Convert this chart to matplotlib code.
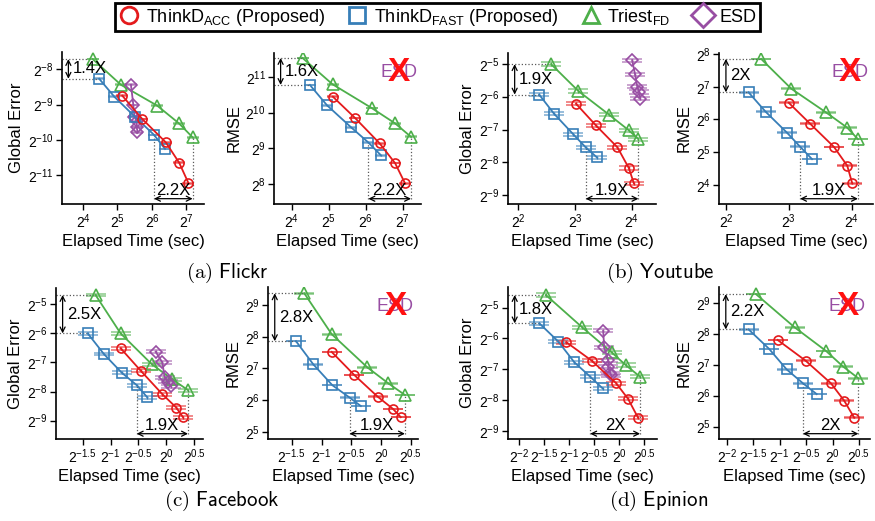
import matplotlib
matplotlib.use('Agg')
import matplotlib.pyplot as plt
from matplotlib.lines import Line2D

plt.rcParams['font.family'] = ['Liberation Sans', 'DejaVu Sans']
plt.rcParams['mathtext.fontset'] = 'custom'
plt.rcParams['mathtext.rm'] = 'Liberation Sans'
plt.rcParams['mathtext.it'] = 'Liberation Sans:italic'
plt.rcParams['mathtext.bf'] = 'Liberation Sans:bold'
plt.rcParams['mathtext.default'] = 'regular'

# all values are log2 of elapsed time (sec) and log2 of the error
# (a) Flickr - global error
fl_ge_acc_t = [5.14, 5.72, 6.40, 6.79, 7.06]
fl_ge_acc_v = [-8.75, -9.41, -10.07, -10.65, -11.23]
fl_ge_fast_t = [4.47, 4.91, 5.50, 6.06, 6.38]
fl_ge_fast_v = [-8.27, -8.78, -9.34, -9.86, -10.26]
fl_ge_tri_t = [4.28, 5.10, 6.15, 6.78, 7.18]
fl_ge_tri_v = [-7.71, -8.44, -9.03, -9.53, -9.93]
fl_ge_esd_t = [5.39, 5.46, 5.49, 5.56, 5.56, 5.58]
fl_ge_esd_v = [-8.44, -9.01, -9.34, -9.48, -9.64, -9.79]
# (a) Flickr - RMSE
fl_rm_acc_t = [5.11, 5.71, 6.37, 6.79, 7.06]
fl_rm_acc_v = [10.45, 9.85, 9.14, 8.58, 8.01]
fl_rm_fast_t = [4.49, 4.95, 5.60, 6.07, 6.41]
fl_rm_fast_v = [10.78, 10.21, 9.59, 9.16, 8.80]
fl_rm_tri_t = [4.29, 5.10, 6.16, 6.79, 7.22]
fl_rm_tri_v = [11.54, 10.80, 10.13, 9.70, 9.32]
# (b) Youtube - global error
yt_ge_acc_t = [3.02, 3.37, 3.75, 3.95, 4.04]
yt_ge_acc_v = [-6.21, -6.87, -7.54, -8.17, -8.64]
yt_ge_fast_t = [2.37, 2.63, 2.97, 3.19, 3.39]
yt_ge_fast_v = [-5.93, -6.51, -7.14, -7.54, -7.85]
yt_ge_tri_t = [2.58, 3.06, 3.60, 3.95, 4.12]
yt_ge_tri_v = [-5.00, -5.82, -6.54, -7.02, -7.29]
yt_ge_esd_t = [4.01, 4.06, 4.10, 4.13, 4.15]
yt_ge_esd_v = [-4.88, -5.31, -5.69, -5.85, -6.05]
# (b) Youtube - RMSE
yt_rm_acc_t = [3.00, 3.34, 3.72, 3.93, 4.01]
yt_rm_acc_v = [6.51, 5.87, 5.16, 4.59, 4.05]
yt_rm_fast_t = [2.36, 2.63, 2.97, 3.18, 3.37]
yt_rm_fast_v = [6.83, 6.24, 5.60, 5.17, 4.79]
yt_rm_tri_t = [2.56, 3.04, 3.59, 3.93, 4.10]
yt_rm_tri_v = [7.85, 6.94, 6.22, 5.75, 5.40]
# (c) Facebook - global error
fb_ge_acc_t = [-0.82, -0.46, -0.07, 0.18, 0.30]
fb_ge_acc_v = [-6.51, -7.28, -8.09, -8.55, -8.88]
fb_ge_fast_t = [-1.41, -1.12, -0.80, -0.53, -0.34]
fb_ge_fast_v = [-6.00, -6.71, -7.35, -7.78, -8.20]
fb_ge_tri_t = [-1.27, -0.82, -0.26, 0.11, 0.39]
fb_ge_tri_v = [-4.68, -6.00, -7.06, -7.58, -7.95]
fb_ge_esd_t = [-0.19, -0.07, -0.03, 0.03, 0.08]
fb_ge_esd_v = [-6.63, -7.00, -7.51, -7.66, -7.81]
# (c) Facebook - RMSE
fb_rm_acc_t = [-0.83, -0.45, -0.06, 0.20, 0.33]
fb_rm_acc_v = [7.52, 6.79, 6.11, 5.72, 5.46]
fb_rm_fast_t = [-1.43, -1.14, -0.82, -0.53, -0.34]
fb_rm_fast_v = [7.86, 7.13, 6.47, 6.08, 5.81]
fb_rm_tri_t = [-1.29, -0.83, -0.23, 0.12, 0.40]
fb_rm_tri_v = [9.37, 8.08, 7.03, 6.53, 6.16]
# (d) Epinion - global error
ep_ge_acc_t = [-1.06, -0.55, -0.06, 0.18, 0.38]
ep_ge_acc_v = [-6.12, -6.72, -7.45, -7.96, -8.57]
ep_ge_fast_t = [-1.60, -1.22, -0.90, -0.58, -0.33]
ep_ge_fast_v = [-5.51, -6.10, -6.77, -7.24, -7.62]
ep_ge_tri_t = [-1.47, -0.74, -0.15, 0.13, 0.42]
ep_ge_tri_v = [-4.59, -5.64, -6.45, -6.86, -7.24]
ep_ge_esd_t = [-0.32, -0.30, -0.22, -0.22, -0.18, -0.16]
ep_ge_esd_v = [-5.75, -6.29, -6.70, -6.92, -7.13, -7.19]
# (d) Epinion - RMSE
ep_rm_acc_t = [-1.04, -0.51, -0.03, 0.22, 0.41]
ep_rm_acc_v = [7.80, 7.13, 6.40, 5.84, 5.29]
ep_rm_fast_t = [-1.59, -1.20, -0.87, -0.56, -0.30]
ep_rm_fast_v = [8.14, 7.51, 6.85, 6.40, 6.05]
ep_rm_tri_t = [-1.45, -0.72, -0.12, 0.20, 0.49]
ep_rm_tri_v = [9.28, 8.21, 7.44, 6.94, 6.56]

speedup_labels = [('1.4X', '2.2X'), ('1.6X', '2.2X'), ('1.9X', '1.9X'), ('2X', '1.9X'),
                  ('2.5X', '1.9X'), ('2.8X', '1.9X'), ('1.8X', '2X'), ('2.2X', '2X')]
captions = ['(a)', '(b)', '(c)', '(d)']
datasets = ['Flickr', 'Youtube', 'Facebook', 'Epinion']

W, H = 875, 521
RED, BLUE, GREEN, PURPLE = '#e41a1c', '#377eb8', '#4daf4a', '#984ea3'
styles = {'acc': (RED, 'o', 6.5), 'fast': (BLUE, 's', 6.5),
          'tri': (GREEN, '^', 8), 'esd': (PURPLE, 'D', 6)}

panels = [
    dict(box=(62, 52, 204, 204), xlim=(3.39, 7.51), ylim=(-11.82, -7.51),
         xt=[4, 5, 6, 7], yt=[-8, -9, -10, -11], ylab='Global Error', err=0.01, cap=4,
         acc=(fl_ge_acc_t, fl_ge_acc_v), fast=(fl_ge_fast_t, fl_ge_fast_v),
         tri=(fl_ge_tri_t, fl_ge_tri_v), esd=(fl_ge_esd_t, fl_ge_esd_v)),
    dict(box=(274, 53, 421, 204), xlim=(3.52, 7.49), ylim=(7.43, 11.68),
         xt=[4, 5, 6, 7], yt=[8, 9, 10, 11], ylab='RMSE', err=0.01, cap=4,
         acc=(fl_rm_acc_t, fl_rm_acc_v), fast=(fl_rm_fast_t, fl_rm_fast_v),
         tri=(fl_rm_tri_t, fl_rm_tri_v), esd=None),
    dict(box=(508, 53, 656, 204), xlim=(1.82, 4.43), ylim=(-9.27, -4.66),
         xt=[2, 3, 4], yt=[-5, -6, -7, -8, -9], ylab='Global Error', err=0.05, cap=7,
         acc=(yt_ge_acc_t, yt_ge_acc_v), fast=(yt_ge_fast_t, yt_ge_fast_v),
         tri=(yt_ge_tri_t, yt_ge_tri_v), esd=(yt_ge_esd_t, yt_ge_esd_v)),
    dict(box=(719, 53, 873, 204), xlim=(1.89, 4.34), ylim=(3.42, 8.03),
         xt=[2, 3, 4], yt=[4, 5, 6, 7, 8], ylab='RMSE', err=0.01, cap=7.5,
         acc=(yt_rm_acc_t, yt_rm_acc_v), fast=(yt_rm_fast_t, yt_rm_fast_v),
         tri=(yt_rm_tri_t, yt_rm_tri_v), esd=None),
    dict(box=(56, 288, 203, 439), xlim=(-1.98, 0.66), ylim=(-9.63, -4.44),
         xt=[-1.5, -1, -0.5, 0, 0.5], yt=[-5, -6, -7, -8, -9], ylab='Global Error', err=0.05, cap=7,
         acc=(fb_ge_acc_t, fb_ge_acc_v), fast=(fb_ge_fast_t, fb_ge_fast_v),
         tri=(fb_ge_tri_t, fb_ge_tri_v), esd=(fb_ge_esd_t, fb_ge_esd_v)),
    dict(box=(268, 287, 418, 439), xlim=(-1.9, 0.62), ylim=(4.77, 9.57),
         xt=[-1.5, -1, -0.5, 0, 0.5], yt=[5, 6, 7, 8, 9], ylab='RMSE', err=0.01, cap=7,
         acc=(fb_rm_acc_t, fb_rm_acc_v), fast=(fb_rm_fast_t, fb_rm_fast_v),
         tri=(fb_rm_tri_t, fb_rm_tri_v), esd=None),
    dict(box=(508, 287, 657, 439), xlim=(-2.23, 0.76), ylim=(-9.26, -4.33),
         xt=[-2, -1.5, -1, -0.5, 0, 0.5], yt=[-5, -6, -7, -8, -9], ylab='Global Error', err=0.05, cap=7,
         acc=(ep_ge_acc_t, ep_ge_acc_v), fast=(ep_ge_fast_t, ep_ge_fast_v),
         tri=(ep_ge_tri_t, ep_ge_tri_v), esd=(ep_ge_esd_t, ep_ge_esd_v)),
    dict(box=(719, 287, 870, 439), xlim=(-2.15, 0.71), ylim=(4.6, 9.51),
         xt=[-2, -1.5, -1, -0.5, 0, 0.5], yt=[5, 6, 7, 8, 9], ylab='RMSE', err=0.01, cap=7,
         acc=(ep_rm_acc_t, ep_rm_acc_v), fast=(ep_rm_fast_t, ep_rm_fast_v),
         tri=(ep_rm_tri_t, ep_rm_tri_v), esd=None),
]


def pow2(v):
    s = str(int(v)) if float(v).is_integer() else str(v)
    return '$2^{%s}$' % s


fig = plt.figure(figsize=(W / 100, H / 100), dpi=100)

for i, p in enumerate(panels):
    l, t, r, b = p['box']
    ax = fig.add_axes([l / W, 1 - b / H, (r - l) / W, (b - t) / H])
    ax.set_xlim(p['xlim'])
    ax.set_ylim(p['ylim'])
    for s in ['top', 'right']:
        ax.spines[s].set_visible(False)
    for s in ['left', 'bottom']:
        ax.spines[s].set_linewidth(1.2)
    ax.set_xticks(p['xt'])
    ax.set_xticklabels([pow2(v) for v in p['xt']])
    ax.set_yticks(p['yt'])
    ax.set_yticklabels([pow2(v) for v in p['yt']])
    ax.tick_params(direction='out', length=4, width=1, labelsize=10, pad=2)
    ax.set_ylabel(p['ylab'], fontsize=12, labelpad=3)
    ax.set_xlabel('Elapsed Time (sec)', fontsize=12, labelpad=2)

    for key in ['tri', 'esd', 'fast', 'acc']:
        if p[key] is None:
            continue
        c, m, ms = styles[key]
        tt, vv = p[key]
        ln, caps, bars = ax.errorbar(tt, vv, yerr=p['err'], fmt='-' + m, color=c, mfc='none',
                                     mec=c, ms=ms, mew=1.2, lw=1.3, capsize=p['cap'],
                                     capthick=1.6, elinewidth=1)
        for cl in caps:
            cl.set_alpha(0.6)

    # speedup annotations
    x0, x1 = p['xlim']
    y0, y1 = p['ylim']
    xr, yr = x1 - x0, y1 - y0
    tri_t, tri_v = p['tri']
    fast_t, fast_v = p['fast']
    lab_v, lab_h = speedup_labels[i]
    dot = dict(ls=':', color='0.35', lw=0.9)
    arr = dict(arrowstyle='<->', lw=0.9, color='black', shrinkA=0, shrinkB=0, mutation_scale=9)

    ax.plot([x0, tri_t[0]], [tri_v[0], tri_v[0]], **dot)
    ax.plot([x0, fast_t[0]], [fast_v[0], fast_v[0]], **dot)
    xa = x0 + 0.045 * xr
    ax.annotate('', xy=(xa, tri_v[0]), xytext=(xa, fast_v[0]), arrowprops=arr)
    ax.text(xa + 0.03 * xr, (tri_v[0] + fast_v[0]) / 2, lab_v, fontsize=12, ha='left', va='center')

    ya = y0 + 0.035 * yr
    ax.plot([fast_t[3], fast_t[3]], [ya, fast_v[3]], **dot)
    ax.plot([tri_t[-1], tri_t[-1]], [ya, tri_v[-1]], **dot)
    ax.annotate('', xy=(fast_t[3], ya), xytext=(tri_t[-1], ya), arrowprops=arr)
    ax.text((fast_t[3] + tri_t[-1]) / 2, ya + 0.005 * yr, lab_h, fontsize=12, ha='center', va='bottom')

    if p['esd'] is None:
        ax.text(0.85, 0.87, 'ESD', transform=ax.transAxes, color=PURPLE, fontsize=13,
                ha='center', va='center')
        ax.text(0.85, 0.87, 'X', transform=ax.transAxes, color='#ff1010', fontsize=24,
                fontweight='bold', ha='center', va='center')

# captions
cap_pos = [(227, 273), (660, 273), (222, 501), (659, 501)]
for (cx, cy), c, d in zip(cap_pos, captions, datasets):
    fig.text(cx / W, 1 - cy / H, r'$\mathrm{%s}\ \mathsf{%s}$' % (c, d), math_fontfamily='cm',
             fontsize=15, ha='center', va='center')

# legend
handles = [Line2D([], [], ls='none', marker=styles[k][1], mfc='none', mec=styles[k][0],
                  ms=12, mew=2) for k in ['acc', 'fast', 'tri', 'esd']]
labels = ['ThinkD$_{ACC}$ (Proposed)', 'ThinkD$_{FAST}$ (Proposed)', 'Triest$_{FD}$', 'ESD']
leg = fig.legend(handles, labels, loc='upper center', bbox_to_anchor=(0.5, 0.994), ncol=4,
                 fontsize=13, frameon=True, fancybox=False, edgecolor='black', framealpha=1,
                 borderpad=0.2, handletextpad=0.3, columnspacing=1.2, handlelength=1.2,
                 borderaxespad=0)
leg.get_frame().set_linewidth(2)

fig.savefig('out.png', dpi=100)
